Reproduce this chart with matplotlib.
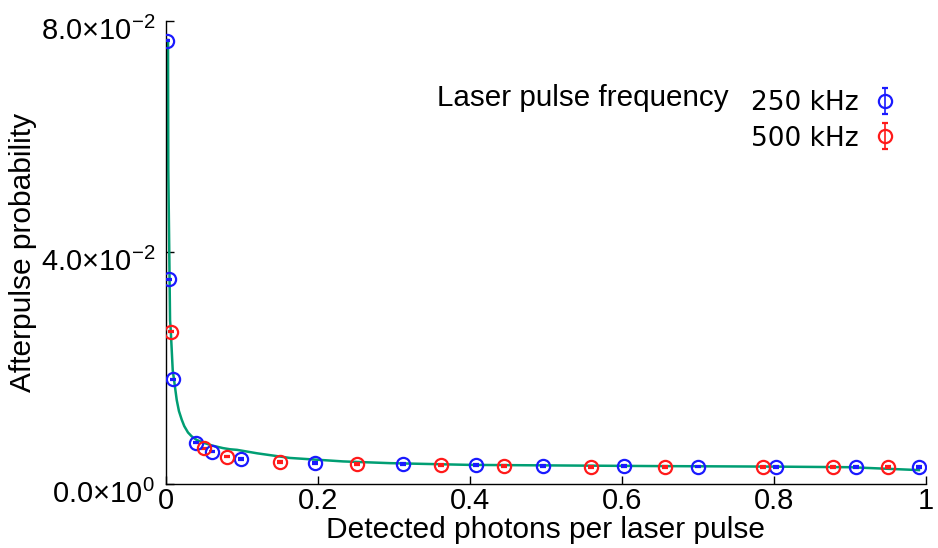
import matplotlib
matplotlib.use("Agg")
import matplotlib.pyplot as plt
import matplotlib.transforms as mtransforms
from matplotlib.ticker import FixedLocator

plt.rcParams['font.family'] = ['Liberation Sans', 'DejaVu Sans']
plt.rcParams['mathtext.fontset'] = 'custom'
plt.rcParams['mathtext.rm'] = 'Liberation Sans'
plt.rcParams['mathtext.it'] = 'Liberation Sans:italic'
plt.rcParams['mathtext.bf'] = 'Liberation Sans:bold'

# 250 kHz data
x250 = [0.0017, 0.0043, 0.0096, 0.0395, 0.0605, 0.0987, 0.196, 0.312, 0.408,
        0.496, 0.603, 0.700, 0.803, 0.908, 0.991]
y250 = [0.0766, 0.0354, 0.0181, 0.00714, 0.00558, 0.00432, 0.00363, 0.00346,
        0.00328, 0.00311, 0.00311, 0.00302, 0.00294, 0.00294, 0.00294]
e250 = [0.0001] * len(x250)

# 500 kHz data
x500 = [0.0066, 0.050, 0.0807, 0.150, 0.251, 0.362, 0.445, 0.559, 0.657,
        0.786, 0.878, 0.950]
y500 = [0.0263, 0.00617, 0.00472, 0.0038, 0.00346, 0.00328, 0.00311, 0.00294,
        0.00294, 0.00294, 0.00294, 0.00294]
e500 = [0.0001] * len(x500)

# fitted curve
xfit = [0.0026, 0.0030, 0.0053, 0.0062, 0.0088, 0.0141, 0.0170, 0.0207, 0.0240,
        0.0289, 0.0340, 0.0404, 0.0500, 0.0618, 0.0750, 0.0842, 0.0934, 0.120,
        0.163, 0.233, 0.295, 0.400, 0.518, 0.637, 0.803, 0.900, 0.991]
yfit = [0.0767, 0.0543, 0.0283, 0.0266, 0.0197, 0.0145, 0.0126, 0.0111, 0.0100,
        0.0089, 0.0082, 0.0076, 0.0071, 0.0066, 0.0062, 0.0060, 0.0059, 0.0053,
        0.0045, 0.0039, 0.0036, 0.0033, 0.0032, 0.0031, 0.0030, 0.0029, 0.0024]

xticks = [0, 0.2, 0.4, 0.6, 0.8, 1.0]
xticklabels = ['0', '0.2', '0.4', '0.6', '0.8', '1']
yticks = [0.0, 0.04, 0.08]
yticklabels = [r'$\mathregular{0.0{\times}10^{0}}$',
               r'$\mathregular{4.0{\times}10^{-2}}$',
               r'$\mathregular{8.0{\times}10^{-2}}$']

fig = plt.figure(figsize=(9.38, 5.48), dpi=100)
ax = fig.add_axes([0.177, 0.1168, 0.81, 0.845])

ax.plot(xfit, yfit, color='#009e73', lw=1.8, zorder=2)

h1 = ax.errorbar(x250, y250, yerr=e250, fmt='o', mfc='none', mec='#1a1aff',
                 ecolor='#1a1aff', ms=9.5, mew=1.6, capsize=2.5, capthick=1.6,
                 elinewidth=1.2, zorder=3, label='250 kHz')
h2 = ax.errorbar(x500, y500, yerr=e500, fmt='o', mfc='none', mec='#ff1a1a',
                 ecolor='#ff1a1a', ms=9.5, mew=1.6, capsize=2.5, capthick=1.6,
                 elinewidth=1.2, zorder=3, label='500 kHz')

ax.set_xlim(0, 1)
ax.set_ylim(0, 0.08)
ax.xaxis.set_major_locator(FixedLocator(xticks))
ax.set_xticklabels(xticklabels)
ax.yaxis.set_major_locator(FixedLocator(yticks))
ax.set_yticklabels(yticklabels)
ax.tick_params(direction='in', length=6, width=1, labelsize=21)
ax.tick_params(axis='x', pad=2)
ax.tick_params(axis='y', pad=8)
for s in ['top', 'right']:
    ax.spines[s].set_visible(False)
for s in ['left', 'bottom']:
    ax.spines[s].set_linewidth(1)

# shift y tick labels slightly down (baseline alignment like reference)
off = mtransforms.ScaledTranslation(0, -7 / 100, fig.dpi_scale_trans)
for lab in ax.get_yticklabels():
    lab.set_transform(lab.get_transform() + off)

ax.set_xlabel('Detected photons per laser pulse', fontsize=21.5)
ax.xaxis.set_label_coords(0.5, -0.07)
ax.set_ylabel('Afterpulse probability', fontsize=21.5)
ax.yaxis.set_label_coords(-0.17, 0.5)

leg = ax.legend(handles=[h1, h2], loc='upper right', bbox_to_anchor=(0.9955, 0.9015),
                frameon=False, markerfirst=False,
                handlelength=1.0, handletextpad=0.5, labelspacing=0.35,
                prop={'family': 'DejaVu Sans', 'size': 19})
ax.text(0.356, 0.833, 'Laser pulse frequency', transform=ax.transAxes,
        fontsize=21.3, ha='left', va='center')

fig.savefig('out.png', dpi=100)
